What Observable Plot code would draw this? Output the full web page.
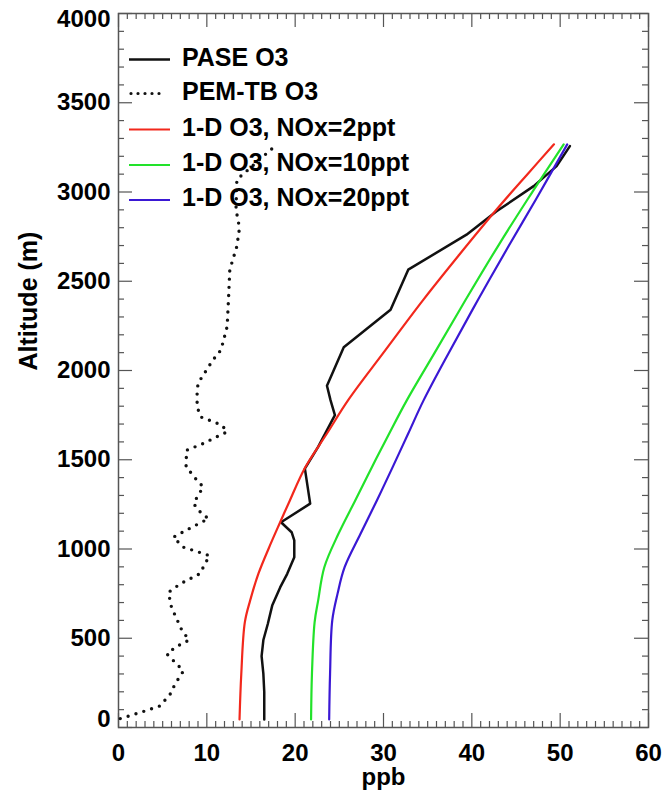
<!DOCTYPE html>
<html>
<head>
<meta charset="utf-8">
<script src="https://cdn.jsdelivr.net/npm/d3@7"></script>
<script src="https://cdn.jsdelivr.net/npm/@observablehq/plot@0.6"></script>
<style>
  html, body { margin: 0; padding: 0; background: #fff; }
  #wrap { position: relative; width: 662px; height: 795px; font-family: "Liberation Sans", Arial, Helvetica, sans-serif; }
  #wrap svg { position: absolute; left: 0; top: 0; }
</style>
</head>
<body>
<div id="wrap"></div>
<script>
// ---- data (ppb vs altitude in m) ----
const altPASE = [45, 200, 300, 400, 490, 580, 683, 785, 861, 954, 1048, 1094, 1150, 1254, 1450, 1572, 1750, 1834, 1915, 2130, 2340, 2565, 2761, 2892, 3033, 3145, 3257];
const o3PASE  = [16.5, 16.5, 16.4, 16.2, 16.4, 16.9, 17.4, 18.3, 19.1, 19.9, 19.9, 19.6, 18.4, 21.7, 21.1, 22.6, 24.5, 24.0, 23.6, 25.5, 30.8, 32.8, 39.4, 42.8, 47.0, 49.6, 51.1];

const altPEM = [50, 83, 121, 187, 243, 317, 411, 449, 490, 542, 673, 757, 805, 861, 963, 1010, 1066, 1122, 1170, 1198, 1254, 1300, 1347, 1384, 1421, 1460, 1553, 1591, 1628, 1656, 1694, 1740, 1797, 1872, 1928, 1975, 2059, 2115, 2171, 2246, 2396, 2565, 2696, 2799, 2902, 3070, 3117, 3257];
const o3PEM  = [0.2, 2.4, 4.7, 5.85, 6.4, 7.35, 5.5, 6.4, 8.0, 7.2, 6.0, 5.65, 7.0, 9.2, 10.3, 7.35, 6.2, 8.3, 10.2, 9.4, 8.5, 9.0, 9.6, 8.9, 8.3, 7.65, 7.7, 9.6, 11.1, 12.3, 11.7, 9.3, 8.9, 8.9, 9.0, 9.6, 10.7, 11.6, 11.9, 12.3, 12.45, 12.6, 13.4, 13.7, 13.3, 13.4, 14.5, 17.7];

const altNOx2 = [45, 300, 589, 711, 863, 1003, 1150, 1272, 1454, 1647, 1834, 2100, 2396, 2650, 2902, 3100, 3267];
const o3NOx2  = [13.7, 13.9, 14.3, 14.9, 15.85, 17.0, 18.3, 19.4, 21.1, 23.6, 26.0, 30.0, 34.5, 38.6, 42.8, 46.3, 49.3];

const altNOx10 = [45, 300, 589, 711, 898, 1085, 1272, 1460, 1647, 1834, 2100, 2396, 2700, 2958, 3267];
const o3NOx10  = [21.8, 21.9, 22.2, 22.6, 23.3, 24.9, 26.8, 28.7, 30.65, 32.65, 35.8, 39.3, 43.0, 46.3, 50.4];

const altNOx20 = [45, 300, 600, 750, 898, 1085, 1272, 1460, 1647, 1834, 2100, 2396, 2700, 2958, 3267];
const o3NOx20  = [23.85, 23.95, 24.2, 24.8, 25.6, 27.4, 29.25, 31.05, 32.8, 34.55, 37.4, 40.7, 44.2, 47.25, 50.8];

const xTicks = [0, 10, 20, 30, 40, 50, 60];
const yTicks = [0, 500, 1000, 1500, 2000, 2500, 3000, 3500, 4000];

const seriesNames = ["PASE O3", "PEM-TB O3", "1-D O3, NOx=2ppt", "1-D O3, NOx=10ppt", "1-D O3, NOx=20ppt"];
const seriesColors = ["#111111", "#111111", "#f2281c", "#22e22a", "#3a18d4"];

// ---- build tables ----
const rows = (alts, vals) => alts.map((a, i) => ({alt: a, v: vals[i]}));
const pase = rows(altPASE, o3PASE);
const pem = rows(altPEM, o3PEM);
const m2 = rows(altNOx2, o3NOx2);
const m10 = rows(altNOx10, o3NOx10);
const m20 = rows(altNOx20, o3NOx20);

const xMinor = d3.range(0, 61, 1).filter(d => d % 10 !== 0);
const yMinor = d3.range(0, 4001, 100).filter(d => d % 500 !== 0);

const W = 662, H = 795;
const mL = 118, mR = 14, mT = 13, mB = 68;
const fw = W - mL - mR, fh = H - mT - mB;
const axisColor = "#555";
const font = {fontSize: 24, fontWeight: "bold", fill: "#000"};

const chart = Plot.plot({
  width: W, height: H,
  marginLeft: mL, marginRight: mR, marginTop: mT, marginBottom: mB,
  style: {fontFamily: "'Liberation Sans', Arial, Helvetica, sans-serif", background: "white", overflow: "visible"},
  x: {domain: [0, 60], axis: null},
  y: {domain: [0, 4000], axis: null},
  marks: [
    // inward ticks
    Plot.tickX(xMinor, {x: d => d, insetTop: fh - 6, stroke: axisColor, strokeWidth: 1.2}),
    Plot.tickX(xTicks, {x: d => d, insetTop: fh - 14, stroke: axisColor, strokeWidth: 1.2}),
    Plot.tickX(xMinor, {x: d => d, insetBottom: fh - 6, stroke: axisColor, strokeWidth: 1.2}),
    Plot.tickX(xTicks, {x: d => d, insetBottom: fh - 14, stroke: axisColor, strokeWidth: 1.2}),
    Plot.tickY(yMinor, {y: d => d, insetRight: fw - 6, stroke: axisColor, strokeWidth: 1.2}),
    Plot.tickY(yTicks, {y: d => d, insetRight: fw - 14, stroke: axisColor, strokeWidth: 1.2}),
    Plot.tickY(yMinor, {y: d => d, insetLeft: fw - 6, stroke: axisColor, strokeWidth: 1.2}),
    Plot.tickY(yTicks, {y: d => d, insetLeft: fw - 14, stroke: axisColor, strokeWidth: 1.2}),
    Plot.frame({stroke: axisColor, strokeWidth: 1.5}),
    // tick labels
    Plot.axisX({ticks: xTicks, tickSize: 0, tickPadding: 16, tickFormat: d => String(d), label: null, ...font}),
    Plot.axisY({ticks: yTicks.slice(1, -1), tickSize: 0, tickPadding: 8, tickFormat: d => String(d), label: null, ...font}),
    Plot.axisY({ticks: [yTicks[0]], tickSize: 0, tickPadding: 8, tickFormat: d => String(d), label: null, dy: -8, ...font}),
    Plot.axisY({ticks: [yTicks[yTicks.length - 1]], tickSize: 0, tickPadding: 8, tickFormat: d => String(d), label: null, dy: 6, ...font}),
    // axis titles
    Plot.text(["ppb"], {frameAnchor: "bottom", text: d => d, dy: 50, lineAnchor: "middle", ...font}),
    Plot.text(["Altitude (m)"], {frameAnchor: "left", text: d => d, rotate: -90, dx: -(mL - 28), lineAnchor: "middle", fontSize: 25, fontWeight: "bold", fill: "#000"}),
    // data
    Plot.line(pase, {x: "v", y: "alt", stroke: seriesColors[0], strokeWidth: 2.5, curve: "linear"}),
    Plot.line(pem, {x: "v", y: "alt", stroke: seriesColors[1], strokeWidth: 3.4, strokeDasharray: "0 8.2", strokeLinecap: "round", curve: "linear"}),
    Plot.line(m2, {x: "v", y: "alt", stroke: seriesColors[2], strokeWidth: 2.2, curve: "catmull-rom"}),
    Plot.line(m10, {x: "v", y: "alt", stroke: seriesColors[3], strokeWidth: 2.2, curve: "catmull-rom"}),
    Plot.line(m20, {x: "v", y: "alt", stroke: seriesColors[4], strokeWidth: 2.2, curve: "catmull-rom"})
  ]
});

const wrap = document.getElementById("wrap");
wrap.appendChild(chart);

// ---- legend overlay ----
const ns = "http://www.w3.org/2000/svg";
const leg = document.createElementNS(ns, "svg");
leg.setAttribute("width", 320);
leg.setAttribute("height", 200);
leg.style.left = "120px";
leg.style.top = "30px";
const rowY = [29.5, 63.5, 99.5, 135, 170];
seriesNames.forEach((name, i) => {
  const ln = document.createElementNS(ns, "line");
  ln.setAttribute("x1", i === 1 ? 11 : 9);
  ln.setAttribute("x2", i === 1 ? 46 : 50);
  ln.setAttribute("y1", rowY[i]);
  ln.setAttribute("y2", rowY[i]);
  ln.setAttribute("stroke", seriesColors[i]);
  ln.setAttribute("stroke-width", i === 1 ? 3.2 : (i === 0 ? 2.5 : 2.2));
  if (i === 1) { ln.setAttribute("stroke-dasharray", "0 7"); ln.setAttribute("stroke-linecap", "round"); }
  leg.appendChild(ln);
  const tx = document.createElementNS(ns, "text");
  tx.setAttribute("x", 62);
  tx.setAttribute("y", rowY[i] + 6);
  tx.setAttribute("font-family", "'Liberation Sans', Arial, Helvetica, sans-serif");
  tx.setAttribute("font-size", 25);
  tx.setAttribute("font-weight", "bold");
  tx.setAttribute("fill", "#000");
  tx.textContent = name;
  leg.appendChild(tx);
});
wrap.appendChild(leg);
</script>
</body>
</html>
